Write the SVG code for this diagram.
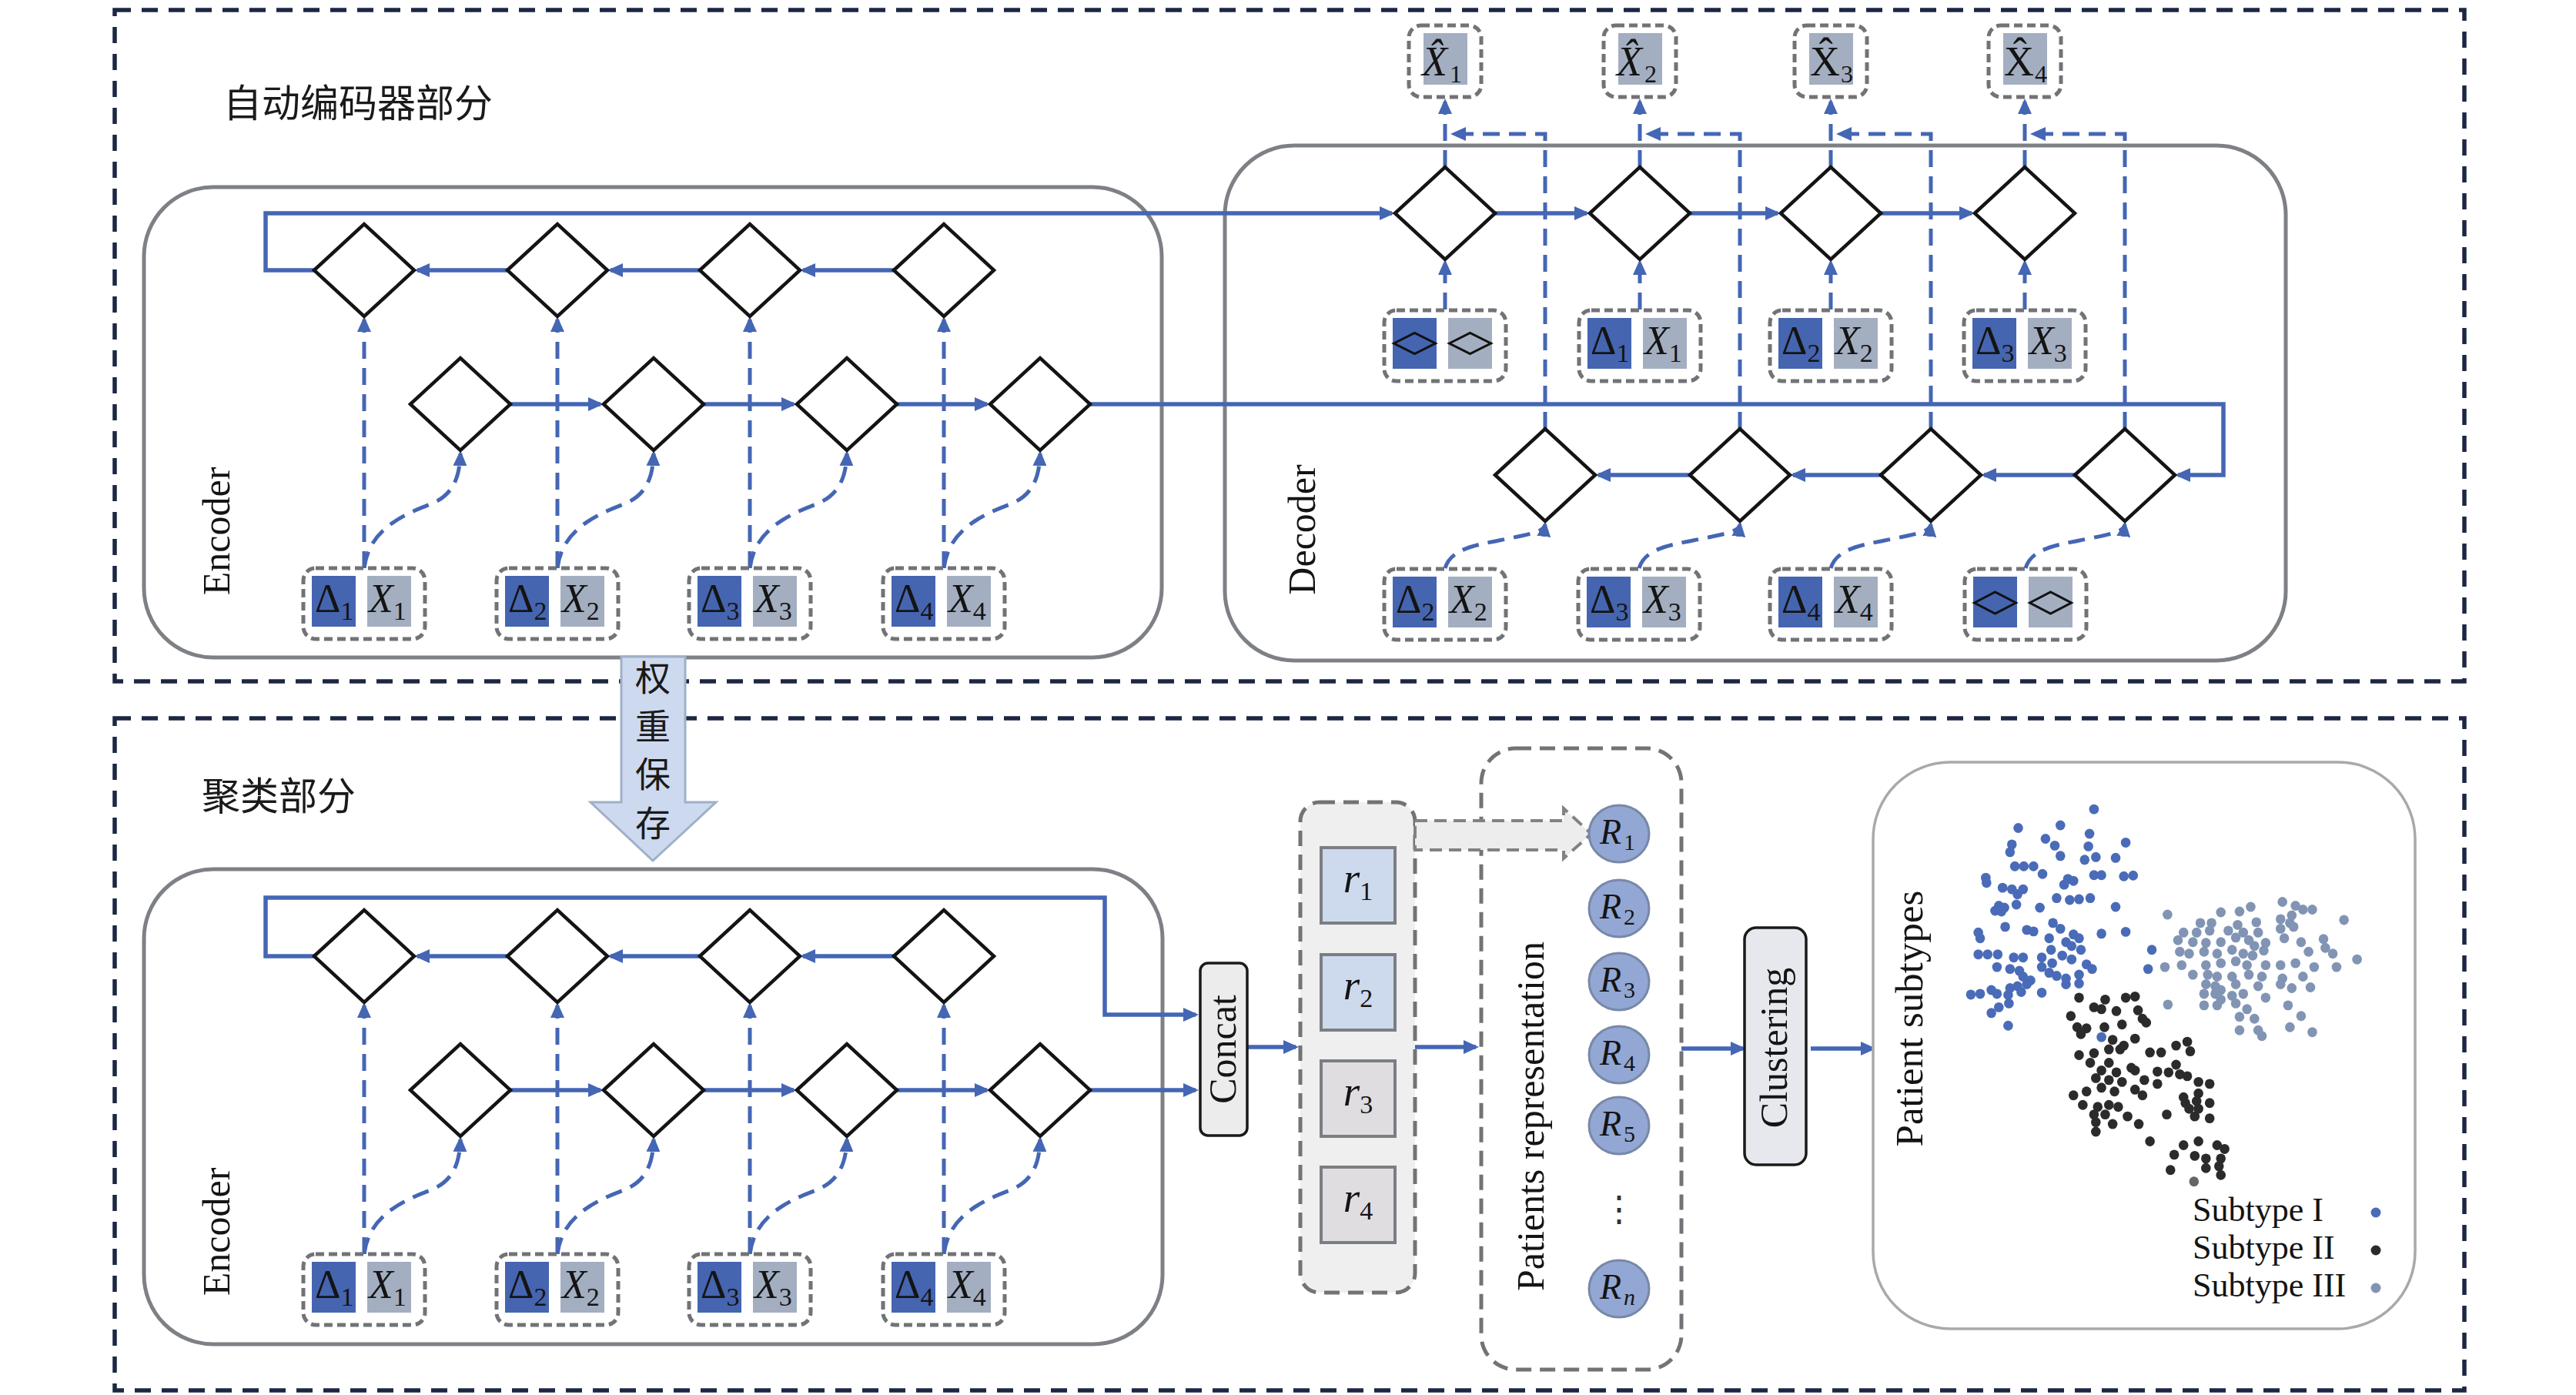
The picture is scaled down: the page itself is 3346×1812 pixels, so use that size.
<svg xmlns="http://www.w3.org/2000/svg" width="3346" height="1812" viewBox="0 0 3346 1812">
<defs>
<style>
.outer{fill:none;stroke:#1d2744;stroke-width:5.5;stroke-dasharray:21 14}
.module{fill:none;stroke:#7d8085;stroke-width:5}
.dia{fill:#fff;stroke:#141414;stroke-width:4.5}
.sl{fill:none;stroke:#4466b4;stroke-width:5.5}
.dl{fill:none;stroke:#4466b4;stroke-width:5;stroke-dasharray:22 12}
.ib{fill:#fff;stroke:#717377;stroke-width:5;stroke-dasharray:11 6}
.bd{fill:#4565b0}
.bg{fill:#a3aec1}
.sym{fill:none;stroke:#111;stroke-width:3}
.m{font-family:"Liberation Serif",serif;font-size:52px;fill:#141414}
.mi{font-style:italic}
.sub{font-size:34px;font-style:normal}
.xh{font-size:54px}
.xs{font-size:32px;font-style:normal}
.rt{font-size:46px}
.rs{font-size:30px;font-style:normal}
.lbl{font-family:"Liberation Serif",serif;font-size:50px;fill:#141414}
.cjk{font-family:"Noto Sans CJK SC","Noto Sans CJK TC",sans-serif;fill:#1a1a1a}
.rb1{fill:#cdd9ec;stroke:#7b7e83;stroke-width:4}
.rb2{fill:#dfdde0;stroke:#7b7e83;stroke-width:4}
.Rc{fill:#93a7d4;stroke:#7888a8;stroke-width:3}
.gd{stroke:#717377;stroke-width:5;stroke-dasharray:20 11}
.leg{font-family:"Liberation Serif",serif;font-size:44px;fill:#141414}
</style>
<marker id="ah" markerUnits="userSpaceOnUse" viewBox="0 0 20 18" markerWidth="20" markerHeight="18" refX="16" refY="9" orient="auto"><path d="M0,0 L20,9 L0,18 Z" fill="#4466b4"/></marker>
<g id="ibox"><rect x="-79" y="-46" width="158" height="92" rx="16" class="ib"/><rect x="-68" y="-36" width="57" height="66" class="bd"/><rect x="4" y="-36" width="57" height="66" class="bg"/></g>
<g id="xbox"><rect x="-47" y="-46" width="94" height="93" rx="16" class="ib"/><rect x="-28" y="-36" width="57" height="67" class="bg"/></g>
</defs>

<rect width="3346" height="1812" fill="#fff"/>

<!-- section frames -->
<g id="frame-autoencoder"><rect class="outer" x="149" y="13" width="3052" height="872"/></g>
<g id="frame-clustering"><rect class="outer" x="149" y="933" width="3052" height="873"/></g>
<g id="title-autoencoder"><text class="cjk" x="290" y="152" font-size="50">自动编码器部分</text></g>
<g id="title-clustering"><text class="cjk" x="262" y="1052" font-size="50">聚类部分</text></g>

<!-- module containers -->
<g id="encoder-top"><rect class="module" x="187" y="243" width="1322" height="611" rx="90"/><text class="lbl" text-anchor="middle" transform="translate(298,690) rotate(-90)">Encoder</text></g>
<g id="decoder"><rect class="module" x="1591" y="189" width="1378" height="669" rx="90"/><text class="lbl" text-anchor="middle" transform="translate(1708,688) rotate(-90)">Decoder</text></g>
<g id="encoder-bottom"><rect class="module" x="187" y="1129" width="1323" height="617" rx="90"/><text class="lbl" text-anchor="middle" transform="translate(298,1600) rotate(-90)">Encoder</text></g>

<!-- connectors -->
<g id="connectors" marker-end="url(#ah)">
  <!-- top encoder -->
  <path class="sl" d="M1161,351 H1043"/>
  <path class="sl" d="M909,351 H793"/>
  <path class="sl" d="M659,351 H542"/>
  <path class="sl" d="M663,525 H780"/>
  <path class="sl" d="M914,525 H1031"/>
  <path class="sl" d="M1165,525 H1282"/>
  <path class="dl" d="M473,738 V415"/>
  <path class="dl" d="M724,738 V415"/>
  <path class="dl" d="M974,738 V415"/>
  <path class="dl" d="M1226,738 V415"/>
  <path class="dl" d="M473,738 C479,690 519,670 559,655 C589,643 597,620 598,589"/>
  <path class="dl" d="M724,738 C730,690 770,670 810,655 C840,643 848,620 849,589"/>
  <path class="dl" d="M974,738 C980,690 1020,670 1060,655 C1090,643 1099,620 1100,589"/>
  <path class="dl" d="M1226,738 C1232,690 1272,670 1312,655 C1342,643 1350,620 1351,589"/>
  <path class="sl" d="M408,351 H345 V277 H1808"/>
  <path class="sl" d="M1416,525 H2888 V617 H2829"/>
  <!-- decoder -->
  <path class="sl" d="M1942,277 H2061"/>
  <path class="sl" d="M2195,277 H2309"/>
  <path class="sl" d="M2443,277 H2561"/>
  <path class="sl" d="M2695,617 H2577"/>
  <path class="sl" d="M2443,617 H2329"/>
  <path class="sl" d="M2195,617 H2076"/>
  <path class="dl" d="M1877,402 V341"/>
  <path class="dl" d="M2130,402 V341"/>
  <path class="dl" d="M2378,402 V341"/>
  <path class="dl" d="M2630,402 V341"/>
  <path class="dl" d="M1877,217 V132"/>
  <path class="dl" d="M2130,217 V132"/>
  <path class="dl" d="M2378,217 V132"/>
  <path class="dl" d="M2630,217 V132"/>
  <path class="dl" d="M2007,557 V174 H1888"/>
  <path class="dl" d="M2260,557 V174 H2141"/>
  <path class="dl" d="M2508,557 V174 H2389"/>
  <path class="dl" d="M2760,557 V174 H2641"/>
  <path class="dl" d="M1877,738 C1885,712 1917,708 1957,700 C1992,693 2006,690 2007,681"/>
  <path class="dl" d="M2129,738 C2137,712 2169,708 2209,700 C2244,693 2259,690 2260,681"/>
  <path class="dl" d="M2378,738 C2386,712 2418,708 2458,700 C2493,693 2507,690 2508,681"/>
  <path class="dl" d="M2631,738 C2639,712 2671,708 2711,700 C2746,693 2759,690 2760,681"/>
  <!-- bottom encoder -->
  <path class="sl" d="M1161,1242 H1043"/>
  <path class="sl" d="M909,1242 H793"/>
  <path class="sl" d="M659,1242 H542"/>
  <path class="sl" d="M663,1416 H780"/>
  <path class="sl" d="M914,1416 H1031"/>
  <path class="sl" d="M1165,1416 H1282"/>
  <path class="dl" d="M473,1629 V1306"/>
  <path class="dl" d="M724,1629 V1306"/>
  <path class="dl" d="M974,1629 V1306"/>
  <path class="dl" d="M1226,1629 V1306"/>
  <path class="dl" d="M473,1629 C479,1581 519,1561 559,1546 C589,1534 597,1511 598,1480"/>
  <path class="dl" d="M724,1629 C730,1581 770,1561 810,1546 C840,1534 848,1511 849,1480"/>
  <path class="dl" d="M974,1629 C980,1581 1020,1561 1060,1546 C1090,1534 1099,1511 1100,1480"/>
  <path class="dl" d="M1226,1629 C1232,1581 1272,1561 1312,1546 C1342,1534 1350,1511 1351,1480"/>
  <path class="sl" d="M408,1242 H345 V1166 H1435 V1318 H1553"/>
  <path class="sl" d="M1416,1416 H1553"/>
  <!-- clustering pipeline -->
  <path class="sl" d="M1620,1360 H1683"/>
  <path class="sl" d="M1838,1360 H1917"/>
  <path class="sl" d="M2184,1362 H2264"/>
  <path class="sl" d="M2352,1362 H2433"/>
</g>

<!-- top encoder nodes -->
<g id="enc1-h1"><polygon class="dia" points="408,351 473,291 538,351 473,411"/></g>
<g id="enc1-h2"><polygon class="dia" points="659,351 724,291 789,351 724,411"/></g>
<g id="enc1-h3"><polygon class="dia" points="909,351 974,291 1039,351 974,411"/></g>
<g id="enc1-h4"><polygon class="dia" points="1161,351 1226,291 1291,351 1226,411"/></g>
<g id="enc1-f1"><polygon class="dia" points="533,525 598,465 663,525 598,585"/></g>
<g id="enc1-f2"><polygon class="dia" points="784,525 849,465 914,525 849,585"/></g>
<g id="enc1-f3"><polygon class="dia" points="1035,525 1100,465 1165,525 1100,585"/></g>
<g id="enc1-f4"><polygon class="dia" points="1286,525 1351,465 1416,525 1351,585"/></g>
<g id="enc1-in1" transform="translate(473,784)"><use href="#ibox"/><text class="m" x="-64" y="11">Δ<tspan class="sub" dy="10">1</tspan></text><text class="m mi" x="6" y="11">X<tspan class="sub" dy="10">1</tspan></text></g>
<g id="enc1-in2" transform="translate(724,784)"><use href="#ibox"/><text class="m" x="-64" y="11">Δ<tspan class="sub" dy="10">2</tspan></text><text class="m mi" x="6" y="11">X<tspan class="sub" dy="10">2</tspan></text></g>
<g id="enc1-in3" transform="translate(974,784)"><use href="#ibox"/><text class="m" x="-64" y="11">Δ<tspan class="sub" dy="10">3</tspan></text><text class="m mi" x="6" y="11">X<tspan class="sub" dy="10">3</tspan></text></g>
<g id="enc1-in4" transform="translate(1226,784)"><use href="#ibox"/><text class="m" x="-64" y="11">Δ<tspan class="sub" dy="10">4</tspan></text><text class="m mi" x="6" y="11">X<tspan class="sub" dy="10">4</tspan></text></g>

<!-- decoder nodes -->
<g id="dec-h1"><polygon class="dia" points="1812,277 1877,217 1942,277 1877,337"/></g>
<g id="dec-h2"><polygon class="dia" points="2065,277 2130,217 2195,277 2130,337"/></g>
<g id="dec-h3"><polygon class="dia" points="2313,277 2378,217 2443,277 2378,337"/></g>
<g id="dec-h4"><polygon class="dia" points="2565,277 2630,217 2695,277 2630,337"/></g>
<g id="dec-b1"><polygon class="dia" points="1942,617 2007,557 2072,617 2007,677"/></g>
<g id="dec-b2"><polygon class="dia" points="2195,617 2260,557 2325,617 2260,677"/></g>
<g id="dec-b3"><polygon class="dia" points="2443,617 2508,557 2573,617 2508,677"/></g>
<g id="dec-b4"><polygon class="dia" points="2695,617 2760,557 2825,617 2760,677"/></g>
<g id="dec-in-u1" transform="translate(1877,449)"><use href="#ibox"/><polygon class="sym" points="-66.5,-3 -39.5,-16.5 -12.5,-3 -39.5,10.5"/><polygon class="sym" points="5.5,-3 32.5,-16.5 59.5,-3 32.5,10.5"/></g>
<g id="dec-in-u2" transform="translate(2130,449)"><use href="#ibox"/><text class="m" x="-64" y="11">Δ<tspan class="sub" dy="10">1</tspan></text><text class="m mi" x="6" y="11">X<tspan class="sub" dy="10">1</tspan></text></g>
<g id="dec-in-u3" transform="translate(2378,449)"><use href="#ibox"/><text class="m" x="-64" y="11">Δ<tspan class="sub" dy="10">2</tspan></text><text class="m mi" x="6" y="11">X<tspan class="sub" dy="10">2</tspan></text></g>
<g id="dec-in-u4" transform="translate(2630,449)"><use href="#ibox"/><text class="m" x="-64" y="11">Δ<tspan class="sub" dy="10">3</tspan></text><text class="m mi" x="6" y="11">X<tspan class="sub" dy="10">3</tspan></text></g>
<g id="dec-in-b1" transform="translate(1877,785)"><use href="#ibox"/><text class="m" x="-64" y="11">Δ<tspan class="sub" dy="10">2</tspan></text><text class="m mi" x="6" y="11">X<tspan class="sub" dy="10">2</tspan></text></g>
<g id="dec-in-b2" transform="translate(2129,785)"><use href="#ibox"/><text class="m" x="-64" y="11">Δ<tspan class="sub" dy="10">3</tspan></text><text class="m mi" x="6" y="11">X<tspan class="sub" dy="10">3</tspan></text></g>
<g id="dec-in-b3" transform="translate(2378,785)"><use href="#ibox"/><text class="m" x="-64" y="11">Δ<tspan class="sub" dy="10">4</tspan></text><text class="m mi" x="6" y="11">X<tspan class="sub" dy="10">4</tspan></text></g>
<g id="dec-in-b4" transform="translate(2631,785)"><use href="#ibox"/><polygon class="sym" points="-66.5,-2 -39.5,-16 -12.5,-2 -39.5,12"/><polygon class="sym" points="5.5,-2 32.5,-16 59.5,-2 32.5,12"/></g>
<g id="out-x1" transform="translate(1877,79)"><use href="#xbox"/><text class="m mi xh" x="-30" y="19">X&#x302;<tspan class="xs" dx="3" dy="9">1</tspan></text></g>
<g id="out-x2" transform="translate(2130,79)"><use href="#xbox"/><text class="m mi xh" x="-30" y="19">X&#x302;<tspan class="xs" dx="3" dy="9">2</tspan></text></g>
<g id="out-x3" transform="translate(2378,79)"><use href="#xbox"/><text class="m xh" x="-27" y="19">X&#x302;<tspan class="xs" dx="1" dy="9">3</tspan></text></g>
<g id="out-x4" transform="translate(2630,79)"><use href="#xbox"/><text class="m xh" x="-27" y="19">X&#x302;<tspan class="xs" dx="1" dy="9">4</tspan></text></g>

<!-- weight transfer arrow -->
<g id="weight-save">
  <polygon points="807,853 890,853 890,1042 930,1042 848,1118 767,1042 807,1042" fill="#cdd9ee" stroke="#9fb0c8" stroke-width="3"/>
  <text class="cjk" x="848" y="897" font-size="46" text-anchor="middle">权</text>
  <text class="cjk" x="848" y="960" font-size="46" text-anchor="middle">重</text>
  <text class="cjk" x="848" y="1022" font-size="46" text-anchor="middle">保</text>
  <text class="cjk" x="848" y="1086" font-size="46" text-anchor="middle">存</text>
</g>

<!-- bottom encoder nodes -->
<g transform="translate(0,891)">
<g id="enc2-h1"><polygon class="dia" points="408,351 473,291 538,351 473,411"/></g>
<g id="enc2-h2"><polygon class="dia" points="659,351 724,291 789,351 724,411"/></g>
<g id="enc2-h3"><polygon class="dia" points="909,351 974,291 1039,351 974,411"/></g>
<g id="enc2-h4"><polygon class="dia" points="1161,351 1226,291 1291,351 1226,411"/></g>
<g id="enc2-f1"><polygon class="dia" points="533,525 598,465 663,525 598,585"/></g>
<g id="enc2-f2"><polygon class="dia" points="784,525 849,465 914,525 849,585"/></g>
<g id="enc2-f3"><polygon class="dia" points="1035,525 1100,465 1165,525 1100,585"/></g>
<g id="enc2-f4"><polygon class="dia" points="1286,525 1351,465 1416,525 1351,585"/></g>
<g id="enc2-in1" transform="translate(473,784)"><use href="#ibox"/><text class="m" x="-64" y="11">Δ<tspan class="sub" dy="10">1</tspan></text><text class="m mi" x="6" y="11">X<tspan class="sub" dy="10">1</tspan></text></g>
<g id="enc2-in2" transform="translate(724,784)"><use href="#ibox"/><text class="m" x="-64" y="11">Δ<tspan class="sub" dy="10">2</tspan></text><text class="m mi" x="6" y="11">X<tspan class="sub" dy="10">2</tspan></text></g>
<g id="enc2-in3" transform="translate(974,784)"><use href="#ibox"/><text class="m" x="-64" y="11">Δ<tspan class="sub" dy="10">3</tspan></text><text class="m mi" x="6" y="11">X<tspan class="sub" dy="10">3</tspan></text></g>
<g id="enc2-in4" transform="translate(1226,784)"><use href="#ibox"/><text class="m" x="-64" y="11">Δ<tspan class="sub" dy="10">4</tspan></text><text class="m mi" x="6" y="11">X<tspan class="sub" dy="10">4</tspan></text></g>
</g>

<!-- concat -->
<g id="concat"><rect x="1559" y="1251" width="61" height="224" rx="10" fill="#ececec" stroke="#1a1a1a" stroke-width="3.5"/><text class="lbl" text-anchor="middle" transform="translate(1605,1363) rotate(-90)">Concat</text></g>

<!-- r vectors -->
<g id="r-vectors">
  <rect x="1689" y="1042" width="149" height="637" rx="25" fill="#efefef" class="gd"/>
  <rect class="rb1" x="1716" y="1101" width="96" height="98"/>
  <rect class="rb1" x="1716" y="1240" width="96" height="98"/>
  <rect class="rb2" x="1716" y="1378" width="96" height="98"/>
  <rect class="rb2" x="1716" y="1516" width="96" height="98"/>
  <text class="m mi" x="1764" y="1159" text-anchor="middle" style="font-size:55px">r<tspan class="sub" dy="10">1</tspan></text>
  <text class="m mi" x="1764" y="1298" text-anchor="middle" style="font-size:55px">r<tspan class="sub" dy="10">2</tspan></text>
  <text class="m mi" x="1764" y="1436" text-anchor="middle" style="font-size:55px">r<tspan class="sub" dy="10">3</tspan></text>
  <text class="m mi" x="1764" y="1574" text-anchor="middle" style="font-size:55px">r<tspan class="sub" dy="10">4</tspan></text>
</g>

<!-- patients representation -->
<g id="patients-representation">
  <rect x="1924" y="972" width="260" height="807" rx="45" fill="none" class="gd"/>
  <text class="lbl" text-anchor="middle" transform="translate(2005,1450) rotate(-90)">Patients representation</text>
</g>
<g id="r-to-R"><polygon points="1838,1066 2031,1066 2031,1050 2067,1083 2031,1115 2031,1104 1838,1104" fill="#ededed" stroke="#808285" stroke-width="4" stroke-dasharray="16 9"/></g>
<g id="R1"><ellipse class="Rc" cx="2103" cy="1083" rx="39" ry="37"/><text class="m mi rt" x="2078" y="1096">R<tspan class="rs" dx="3" dy="8">1</tspan></text></g>
<g id="R2"><ellipse class="Rc" cx="2103" cy="1180" rx="39" ry="37"/><text class="m mi rt" x="2078" y="1193">R<tspan class="rs" dx="3" dy="8">2</tspan></text></g>
<g id="R3"><ellipse class="Rc" cx="2103" cy="1275" rx="39" ry="37"/><text class="m mi rt" x="2078" y="1288">R<tspan class="rs" dx="3" dy="8">3</tspan></text></g>
<g id="R4"><ellipse class="Rc" cx="2103" cy="1370" rx="39" ry="37"/><text class="m mi rt" x="2078" y="1383">R<tspan class="rs" dx="3" dy="8">4</tspan></text></g>
<g id="R5"><ellipse class="Rc" cx="2103" cy="1462" rx="39" ry="37"/><text class="m mi rt" x="2078" y="1475">R<tspan class="rs" dx="3" dy="8">5</tspan></text></g>
<g id="R-dots"><text x="2103" y="1586" font-family="DejaVu Serif, serif" font-size="46" fill="#333" text-anchor="middle">⋮</text></g>
<g id="Rn"><ellipse class="Rc" cx="2103" cy="1674" rx="39" ry="37"/><text class="m mi rt" x="2078" y="1687">R<tspan class="rs" dx="3" dy="8" style="font-style:italic">n</tspan></text></g>

<!-- clustering -->
<g id="clustering"><rect x="2266" y="1205" width="80" height="308" rx="15" fill="#e6e8ee" stroke="#1a1a1a" stroke-width="3.5"/><text class="lbl" text-anchor="middle" transform="translate(2321,1361) rotate(-90)">Clustering</text></g>

<!-- patient subtypes -->
<g id="patient-subtypes">
  <rect x="2433" y="990" width="704" height="736" rx="100" fill="#fff" stroke="#a9a9a9" stroke-width="3.5"/>
  <text class="lbl" text-anchor="middle" transform="translate(2497,1323) rotate(-90)" style="font-size:51px">Patient subtypes</text>
  <g transform="translate(2400,980) scale(0.4847,0.4975)">
    <g fill="#4a6bb8">
      <circle cx="660" cy="143" r="13"/><circle cx="457" cy="192" r="13"/><circle cx="570" cy="185" r="13"/><circle cx="648" cy="207" r="13"/><circle cx="530" cy="220" r="13"/><circle cx="745" cy="230" r="13"/><circle cx="440" cy="235" r="13"/><circle cx="555" cy="238" r="13"/><circle cx="645" cy="240" r="13"/><circle cx="435" cy="255" r="13"/><circle cx="570" cy="265" r="13"/><circle cx="635" cy="275" r="13"/><circle cx="665" cy="268" r="13"/><circle cx="718" cy="270" r="13"/><circle cx="448" cy="292" r="13"/><circle cx="472" cy="292" r="13"/><circle cx="498" cy="292" r="13"/><circle cx="522" cy="312" r="13"/><circle cx="660" cy="315" r="13"/><circle cx="680" cy="315" r="13"/><circle cx="740" cy="318" r="13"/><circle cx="765" cy="316" r="13"/><circle cx="370" cy="322" r="13"/><circle cx="590" cy="325" r="13"/><circle cx="605" cy="330" r="13"/><circle cx="372" cy="335" r="13"/><circle cx="580" cy="340" r="13"/><circle cx="415" cy="348" r="13"/><circle cx="440" cy="352" r="13"/><circle cx="470" cy="352" r="13"/><circle cx="455" cy="365" r="13"/><circle cx="560" cy="375" r="13"/><circle cx="595" cy="380" r="13"/><circle cx="620" cy="378" r="13"/><circle cx="650" cy="375" r="13"/><circle cx="405" cy="395" r="13"/><circle cx="420" cy="400" r="13"/><circle cx="452" cy="392" r="13"/><circle cx="515" cy="400" r="13"/><circle cx="718" cy="398" r="13"/><circle cx="395" cy="408" r="13"/><circle cx="412" cy="410" r="13"/><circle cx="550" cy="440" r="13"/><circle cx="570" cy="455" r="13"/><circle cx="480" cy="458" r="13"/><circle cx="498" cy="462" r="13"/><circle cx="422" cy="450" r="13"/><circle cx="350" cy="465" r="13"/><circle cx="355" cy="480" r="13"/><circle cx="680" cy="468" r="13"/><circle cx="745" cy="463" r="13"/><circle cx="605" cy="470" r="13"/><circle cx="620" cy="480" r="13"/><circle cx="585" cy="490" r="13"/><circle cx="540" cy="480" r="13"/><circle cx="600" cy="500" r="13"/><circle cx="545" cy="510" r="13"/><circle cx="625" cy="510" r="13"/><circle cx="350" cy="522" r="13"/><circle cx="375" cy="522" r="13"/><circle cx="402" cy="522" r="13"/><circle cx="445" cy="530" r="13"/><circle cx="470" cy="530" r="13"/><circle cx="520" cy="530" r="13"/><circle cx="575" cy="525" r="13"/><circle cx="600" cy="535" r="13"/><circle cx="640" cy="548" r="13"/><circle cx="655" cy="560" r="13"/><circle cx="400" cy="555" r="13"/><circle cx="435" cy="560" r="13"/><circle cx="460" cy="565" r="13"/><circle cx="548" cy="545" r="13"/><circle cx="520" cy="555" r="13"/><circle cx="540" cy="570" r="13"/><circle cx="560" cy="578" r="13"/><circle cx="585" cy="585" r="13"/><circle cx="620" cy="575" r="13"/><circle cx="470" cy="580" r="13"/><circle cx="490" cy="590" r="13"/><circle cx="480" cy="600" r="13"/><circle cx="455" cy="605" r="13"/><circle cx="330" cy="627" r="13"/><circle cx="355" cy="625" r="13"/><circle cx="385" cy="615" r="13"/><circle cx="400" cy="625" r="13"/><circle cx="435" cy="610" r="13"/><circle cx="430" cy="628" r="13"/><circle cx="465" cy="620" r="13"/><circle cx="520" cy="622" r="13"/><circle cx="585" cy="600" r="13"/><circle cx="620" cy="598" r="13"/><circle cx="405" cy="660" r="13"/><circle cx="385" cy="675" r="13"/><circle cx="432" cy="650" r="13"/><circle cx="430" cy="708" r="13"/><circle cx="680" cy="738" r="13"/><circle cx="815" cy="510" r="13"/><circle cx="805" cy="560" r="13"/>
    </g>
    <g fill="#2b2b2b">
      <circle cx="620" cy="635" r="13"/><circle cx="690" cy="640" r="13"/><circle cx="745" cy="635" r="13"/><circle cx="770" cy="632" r="13"/><circle cx="598" cy="683" r="13"/><circle cx="660" cy="660" r="13"/><circle cx="680" cy="665" r="13"/><circle cx="720" cy="670" r="13"/><circle cx="778" cy="668" r="13"/><circle cx="790" cy="690" r="13"/><circle cx="615" cy="712" r="13"/><circle cx="640" cy="715" r="13"/><circle cx="688" cy="712" r="13"/><circle cx="735" cy="705" r="13"/><circle cx="800" cy="700" r="13"/><circle cx="625" cy="730" r="13"/><circle cx="710" cy="745" r="13"/><circle cx="770" cy="742" r="13"/><circle cx="740" cy="760" r="13"/><circle cx="620" cy="785" r="13"/><circle cx="660" cy="780" r="13"/><circle cx="700" cy="770" r="13"/><circle cx="730" cy="770" r="13"/><circle cx="810" cy="778" r="13"/><circle cx="840" cy="778" r="13"/><circle cx="880" cy="760" r="13"/><circle cx="910" cy="750" r="13"/><circle cx="918" cy="775" r="13"/><circle cx="650" cy="805" r="13"/><circle cx="700" cy="805" r="13"/><circle cx="680" cy="825" r="13"/><circle cx="720" cy="830" r="13"/><circle cx="760" cy="818" r="13"/><circle cx="770" cy="825" r="13"/><circle cx="830" cy="828" r="13"/><circle cx="860" cy="830" r="13"/><circle cx="880" cy="810" r="13"/><circle cx="890" cy="835" r="13"/><circle cx="910" cy="840" r="13"/><circle cx="665" cy="845" r="13"/><circle cx="700" cy="850" r="13"/><circle cx="735" cy="855" r="13"/><circle cx="795" cy="850" r="13"/><circle cx="830" cy="860" r="13"/><circle cx="940" cy="855" r="13"/><circle cx="970" cy="860" r="13"/><circle cx="605" cy="890" r="13"/><circle cx="640" cy="880" r="13"/><circle cx="680" cy="870" r="13"/><circle cx="715" cy="880" r="13"/><circle cx="770" cy="875" r="13"/><circle cx="790" cy="890" r="13"/><circle cx="900" cy="895" r="13"/><circle cx="940" cy="885" r="13"/><circle cx="935" cy="905" r="13"/><circle cx="970" cy="910" r="13"/><circle cx="630" cy="915" r="13"/><circle cx="670" cy="920" r="13"/><circle cx="700" cy="915" r="13"/><circle cx="725" cy="920" r="13"/><circle cx="905" cy="910" r="13"/><circle cx="915" cy="925" r="13"/><circle cx="940" cy="925" r="13"/><circle cx="660" cy="940" r="13"/><circle cx="690" cy="940" r="13"/><circle cx="750" cy="945" r="13"/><circle cx="855" cy="940" r="13"/><circle cx="930" cy="945" r="13"/><circle cx="970" cy="950" r="13"/><circle cx="665" cy="960" r="13"/><circle cx="710" cy="965" r="13"/><circle cx="780" cy="965" r="13"/><circle cx="665" cy="985" r="13"/><circle cx="810" cy="1010" r="13"/><circle cx="900" cy="1020" r="13"/><circle cx="940" cy="1010" r="13"/><circle cx="990" cy="1020" r="13"/><circle cx="875" cy="1045" r="13"/><circle cx="930" cy="1048" r="13"/><circle cx="960" cy="1055" r="13"/><circle cx="1010" cy="1030" r="13"/><circle cx="1000" cy="1055" r="13"/><circle cx="865" cy="1085" r="13"/><circle cx="960" cy="1080" r="13"/><circle cx="995" cy="1075" r="13"/><circle cx="1000" cy="1098" r="13"/><circle cx="928" cy="1115" r="13" fill="#666"/>
    </g>
    <g fill="#8194b4">
      <circle cx="857" cy="418" r="13"/><circle cx="1000" cy="412" r="13"/><circle cx="1050" cy="410" r="13"/><circle cx="1080" cy="398" r="13"/><circle cx="1165" cy="385" r="13"/><circle cx="1200" cy="395" r="13"/><circle cx="1220" cy="405" r="13"/><circle cx="1245" cy="405" r="13"/><circle cx="1330" cy="432" r="13"/><circle cx="1190" cy="420" r="13"/><circle cx="945" cy="440" r="13"/><circle cx="975" cy="440" r="13"/><circle cx="1045" cy="445" r="13"/><circle cx="1095" cy="438" r="13"/><circle cx="1160" cy="430" r="13"/><circle cx="1185" cy="440" r="13"/><circle cx="900" cy="465" r="13"/><circle cx="935" cy="465" r="13"/><circle cx="970" cy="460" r="13"/><circle cx="1020" cy="460" r="13"/><circle cx="1060" cy="465" r="13"/><circle cx="1100" cy="465" r="13"/><circle cx="1160" cy="455" r="13"/><circle cx="1195" cy="450" r="13"/><circle cx="885" cy="485" r="13"/><circle cx="925" cy="490" r="13"/><circle cx="960" cy="492" r="13"/><circle cx="1000" cy="490" r="13"/><circle cx="1040" cy="478" r="13"/><circle cx="1075" cy="485" r="13"/><circle cx="1090" cy="500" r="13"/><circle cx="1120" cy="492" r="13"/><circle cx="1170" cy="480" r="13"/><circle cx="1215" cy="490" r="13"/><circle cx="1275" cy="482" r="13"/><circle cx="890" cy="515" r="13"/><circle cx="915" cy="520" r="13"/><circle cx="955" cy="515" r="13"/><circle cx="990" cy="520" r="13"/><circle cx="1030" cy="510" r="13"/><circle cx="1060" cy="520" r="13"/><circle cx="1085" cy="525" r="13"/><circle cx="1115" cy="512" r="13"/><circle cx="1235" cy="515" r="13"/><circle cx="1280" cy="505" r="13"/><circle cx="1300" cy="520" r="13"/><circle cx="1365" cy="535" r="13"/><circle cx="850" cy="555" r="13"/><circle cx="895" cy="550" r="13"/><circle cx="960" cy="550" r="13"/><circle cx="1000" cy="545" r="13"/><circle cx="1040" cy="540" r="13"/><circle cx="1070" cy="550" r="13"/><circle cx="1120" cy="550" r="13"/><circle cx="1160" cy="550" r="13"/><circle cx="1200" cy="545" r="13"/><circle cx="1250" cy="555" r="13"/><circle cx="1310" cy="555" r="13"/><circle cx="925" cy="575" r="13"/><circle cx="965" cy="575" r="13"/><circle cx="990" cy="580" r="13"/><circle cx="1030" cy="580" r="13"/><circle cx="1075" cy="575" r="13"/><circle cx="1110" cy="580" r="13"/><circle cx="1165" cy="585" r="13"/><circle cx="1220" cy="580" r="13"/><circle cx="960" cy="600" r="13"/><circle cx="985" cy="605" r="13"/><circle cx="1000" cy="615" r="13"/><circle cx="1040" cy="600" r="13"/><circle cx="1100" cy="605" r="13"/><circle cx="1160" cy="600" r="13"/><circle cx="1190" cy="610" r="13"/><circle cx="1240" cy="608" r="13"/><circle cx="955" cy="625" r="13"/><circle cx="985" cy="625" r="13"/><circle cx="1030" cy="630" r="13"/><circle cx="1060" cy="625" r="13"/><circle cx="1120" cy="635" r="13"/><circle cx="858" cy="653" r="13"/><circle cx="955" cy="655" r="13"/><circle cx="990" cy="655" r="13"/><circle cx="1040" cy="650" r="13"/><circle cx="1070" cy="665" r="13"/><circle cx="1000" cy="640" r="13"/><circle cx="1050" cy="685" r="13"/><circle cx="1090" cy="690" r="13"/><circle cx="1180" cy="655" r="13"/><circle cx="1215" cy="683" r="13"/><circle cx="1050" cy="720" r="13"/><circle cx="1100" cy="720" r="13"/><circle cx="1110" cy="735" r="13"/><circle cx="1185" cy="712" r="13"/><circle cx="1245" cy="725" r="13"/>
    </g>
  </g>
  <text class="leg" x="2848" y="1586">Subtype I</text>
  <text class="leg" x="2848" y="1635">Subtype II</text>
  <text class="leg" x="2848" y="1684">Subtype III</text>
  <circle cx="3086" cy="1575" r="6.5" fill="#4a6bb8"/>
  <circle cx="3086" cy="1624" r="6.5" fill="#2b2b2b"/>
  <circle cx="3086" cy="1673" r="6.5" fill="#8194b4"/>
</g>
</svg>
